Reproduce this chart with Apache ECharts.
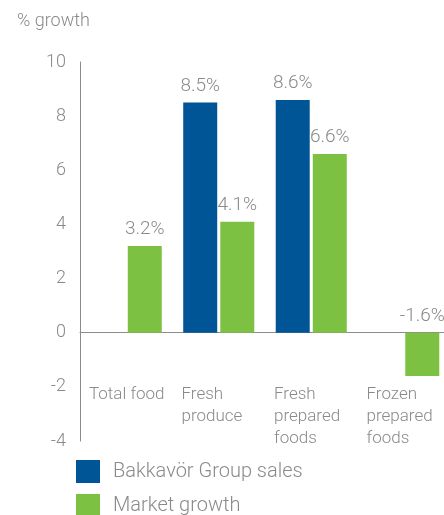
<!DOCTYPE html>
<html>
<head>
<meta charset="utf-8">
<script src="https://cdn.jsdelivr.net/npm/echarts@6/dist/echarts.min.js"></script>
<style>
  html, body { margin: 0; padding: 0; background: #fff; }
  #chart { width: 444px; height: 515px; }
</style>
</head>
<body>
<div id="chart"></div>
<script>
// Sales growth by food category
const categories = ['Total food', 'Fresh\nproduce', 'Fresh\nprepared\nfoods', 'Frozen\nprepared\nfoods'];
const groupSales = ['-', 8.5, 8.6, '-'];
const marketGrowth = [3.2, 4.1, 6.6, -1.6];
const yTicks = { min: -4, max: 10, step: 2 };

const FONT = 'Roboto, "Liberation Sans", sans-serif';
const GREY = '#8a8a8a';
const BLUE = '#005596';
const GREEN = '#7dc142';

const labelStyle = {
  show: true,
  position: 'top',
  distance: 7,
  color: GREY,
  fontFamily: FONT,
  fontWeight: 300,
  fontSize: 19,
  formatter: p => p.value.toFixed(1) + '%'
};

const chart = echarts.init(document.getElementById('chart'), null, { renderer: 'canvas' });
chart.setOption({
  animation: false,
  title: {
    text: '% growth',
    left: 12, top: 7,
    textStyle: { color: GREY, fontFamily: FONT, fontWeight: 300, fontSize: 18 }
  },
  grid: { left: 80, right: -6, top: 62, bottom: 74, containLabel: false, outerBoundsMode: 'none' },
  legend: {
    orient: 'vertical',
    left: 76, top: 460,
    height: 120,
    padding: 0,
    itemWidth: 24, itemHeight: 23, itemGap: 11,
    icon: 'rect',
    textStyle: { color: GREY, fontFamily: FONT, fontWeight: 300, fontSize: 20, padding: [0, 0, 0, 8] },
    data: ['Bakkavör Group sales', 'Market growth']
  },
  xAxis: [
    {
      type: 'category',
      data: categories,
      position: 'bottom',
      axisLine: { onZero: true, lineStyle: { color: '#8c8c8c', width: 1 } },
      axisTick: { show: false },
      axisLabel: { show: false },
      splitLine: { show: false }
    },
    {
      // category names, left-aligned at the start of each band
      type: 'value',
      position: 'bottom',
      offset: -108,
      min: 0, max: categories.length, interval: 1,
      axisLine: { show: false, onZero: false },
      axisTick: { show: false },
      splitLine: { show: false },
      axisLabel: {
        show: true,
        showMinLabel: true,
        showMaxLabel: false,
        align: 'left',
        verticalAlign: 'top',
        margin: 51,
        padding: [0, 0, 0, 9],
        lineHeight: 22,
        color: GREY,
        fontFamily: FONT,
        fontWeight: 300,
        fontSize: 17,
        formatter: v => (categories[v] !== undefined ? categories[v] : '')
      }
    }
  ],
  yAxis: {
    type: 'value',
    min: yTicks.min, max: yTicks.max, interval: yTicks.step,
    axisLine: { show: true, lineStyle: { color: '#8c8c8c', width: 1 } },
    axisTick: { show: false },
    splitLine: { show: false },
    axisLabel: {
      margin: 14,
      color: GREY,
      fontFamily: FONT,
      fontWeight: 300,
      fontSize: 18
    }
  },
  series: [
    {
      name: 'Bakkavör Group sales',
      type: 'bar',
      xAxisIndex: 0,
      data: groupSales,
      barWidth: 34,
      barGap: '9%',
      itemStyle: { color: BLUE },
      label: labelStyle
    },
    {
      name: 'Market growth',
      type: 'bar',
      xAxisIndex: 0,
      data: marketGrowth,
      barWidth: 34,
      itemStyle: { color: GREEN },
      label: labelStyle
    }
  ]
});
</script>
</body>
</html>
